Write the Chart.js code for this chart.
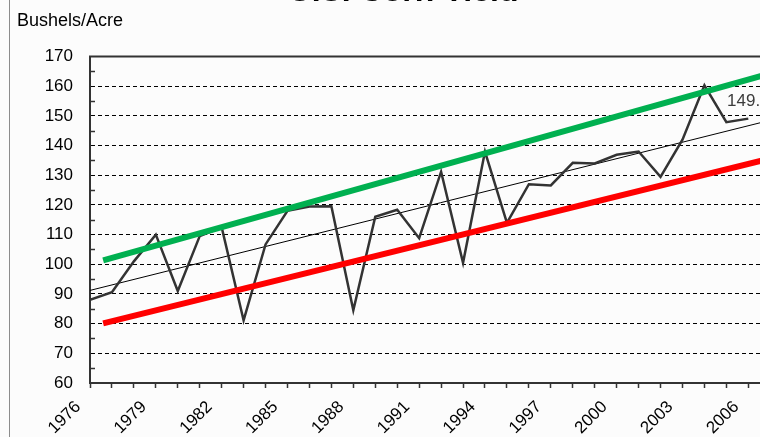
<!DOCTYPE html>
<html>
<head>
<meta charset="utf-8">
<title>U.S. Corn Yield</title>
<script src="https://cdn.jsdelivr.net/npm/chart.js@4/dist/chart.umd.min.js"></script>
<style>
  html, body { margin: 0; padding: 0; overflow: hidden; background: #fcfcfc; }
  /* chart is a bit bigger than the window, like the cropped original */
  #wrap { position: absolute; left: 0; top: -30px; width: 790px; height: 467px; }
</style>
</head>
<body>
<div id="wrap"><canvas id="chartYield"></canvas></div>
<script>
// Data
const years = [1976, 1977, 1978, 1979, 1980, 1981, 1982, 1983, 1984, 1985, 1986,
  1987, 1988, 1989, 1990, 1991, 1992, 1993, 1994, 1995, 1996, 1997, 1998, 1999,
  2000, 2001, 2002, 2003, 2004, 2005, 2006];
const yieldValues = [88.0, 90.6, 101.0, 110.0, 91.0, 109.5, 112.5, 81.1, 106.7, 118.0, 119.5,
  119.6, 84.5, 116.0, 118.4, 108.8, 131.2, 100.5, 138.0, 114.0, 127.0, 126.6, 134.2, 134.0,
  136.9, 138.0, 129.5, 142.0, 160.3, 147.9, 149.1];

// trend line and the two channel lines (end points)
const trendYears = [1976, 2008];
const trendValues = [91.2, 150.4];
const upperYears = [1976.6, 2008];
const upperValues = [101.3, 166.4];
const lowerYears = [1976.6, 2008];
const lowerValues = [80.1, 137.5];

// axis settings
const yMin = 60;
const yMax = 170;
const xMin = 1976;
const xMax = 2007.9;
const labelEvery = 3;

const FONT = '"Liberation Sans", Arial, sans-serif';

function toPoints(xs, ys) {
  return xs.map((x, i) => ({ x: x, y: ys[i] }));
}

// frame, top border, small inner ticks and the last value label
const framePlugin = {
  id: 'frame',
  beforeDraw(chart) {
    const ctx = chart.ctx;
    ctx.save();
    ctx.strokeStyle = '#8c8c8c';
    ctx.lineWidth = 1;
    ctx.beginPath();
    ctx.moveTo(9.5, 0);
    ctx.lineTo(9.5, chart.height);
    ctx.stroke();
    ctx.restore();
  },
  afterDatasetsDraw(chart) {
    const ctx = chart.ctx;
    const area = chart.chartArea;
    const yScale = chart.scales.y;
    ctx.save();
    ctx.strokeStyle = '#333';
    ctx.lineWidth = 2;
    ctx.beginPath();
    ctx.moveTo(area.left - 1, area.top);
    ctx.lineTo(area.right, area.top);
    ctx.stroke();

    ctx.lineWidth = 1.5;
    for (let v = yMin + 5; v < yMax; v += 10) {
      const py = Math.round(yScale.getPixelForValue(v)) + 0.5;
      ctx.beginPath();
      ctx.moveTo(area.left, py);
      ctx.lineTo(area.left + 5, py);
      ctx.stroke();
    }

    // label above the last point
    const idx = chart.data.datasets.findIndex(ds => ds.label === 'Yield');
    const meta = chart.getDatasetMeta(idx);
    const last = meta.data[meta.data.length - 1];
    ctx.fillStyle = '#3c3c3c';
    ctx.font = '17px ' + FONT;
    ctx.textAlign = 'center';
    ctx.textBaseline = 'alphabetic';
    ctx.fillText(yieldValues[yieldValues.length - 1].toFixed(1), last.x, last.y - 13);
    ctx.restore();
  }
};

function initChart() {
  const ctx = document.getElementById('chartYield').getContext('2d');
  return new Chart(ctx, {
    type: 'line',
    data: {
      datasets: [
        {
          label: 'Upper',
          data: toPoints(upperYears, upperValues),
          borderColor: '#00b050',
          borderWidth: 6,
          borderCapStyle: 'butt',
          pointRadius: 0
        },
        {
          label: 'Lower',
          data: toPoints(lowerYears, lowerValues),
          borderColor: '#ff0000',
          borderWidth: 6,
          borderCapStyle: 'butt',
          pointRadius: 0
        },
        {
          label: 'Yield',
          data: toPoints(years, yieldValues),
          borderColor: '#333',
          borderWidth: 2.5,
          pointRadius: 0,
          tension: 0
        },
        {
          label: 'Trend',
          data: toPoints(trendYears, trendValues),
          borderColor: '#000',
          borderWidth: 1,
          pointRadius: 0
        }
      ]
    },
    options: {
      responsive: true,
      maintainAspectRatio: false,
      animation: false,
      parsing: false,
      layout: { padding: { left: 17, right: 0, top: 0, bottom: 0 } },
      scales: {
        x: {
          type: 'linear',
          min: xMin,
          max: xMax,
          afterFit(scale) {
            scale.height = 54;
            // no extra room for the rotated end labels
            scale.paddingLeft = 0;
            scale.paddingRight = 0;
          },
          ticks: {
            stepSize: 1,
            includeBounds: false,
            autoSkip: false,
            maxRotation: 45,
            minRotation: 45,
            labelOffset: -12,
            padding: 9,
            color: '#000',
            font: { family: FONT, size: 17 },
            callback: (v) => ((v - xMin) % labelEvery === 0 ? String(v) : '')
          },
          grid: {
            drawOnChartArea: false,
            drawTicks: true,
            tickLength: 5,
            tickColor: '#333',
            tickWidth: 1.5
          },
          border: { display: true, color: '#333', width: 2 }
        },
        y: {
          type: 'linear',
          min: yMin,
          max: yMax,
          afterFit(scale) { scale.width = 73; },
          ticks: {
            stepSize: 5,
            padding: 17,
            color: '#000',
            font: { family: FONT, size: 17 },
            callback: (v) => (v % 10 === 0 ? String(v) : '')
          },
          grid: {
            drawTicks: false,
            color: (c) => {
              const v = c.tick ? c.tick.value : 0;
              return (v % 10 === 0 && v !== yMin && v !== yMax) ? '#000' : 'rgba(0,0,0,0)';
            },
            lineWidth: 1
          },
          border: { display: true, color: '#333', width: 2, dash: [4, 3] }
        }
      },
      plugins: {
        legend: { display: false },
        tooltip: { enabled: false },
        title: {
          display: true,
          text: 'U.S. Corn Yield',
          color: '#000',
          font: { family: FONT, size: 32, weight: 'bold', lineHeight: 1 },
          padding: { top: 6, bottom: 0 }
        },
        subtitle: {
          display: true,
          text: 'Bushels/Acre',
          align: 'start',
          color: '#000',
          font: { family: FONT, size: 18, lineHeight: 1.2 },
          padding: { top: 2, bottom: 25 }
        }
      }
    },
    plugins: [framePlugin]
  });
}

document.addEventListener('DOMContentLoaded', () => {
  initChart();
});
</script>
</body>
</html>
